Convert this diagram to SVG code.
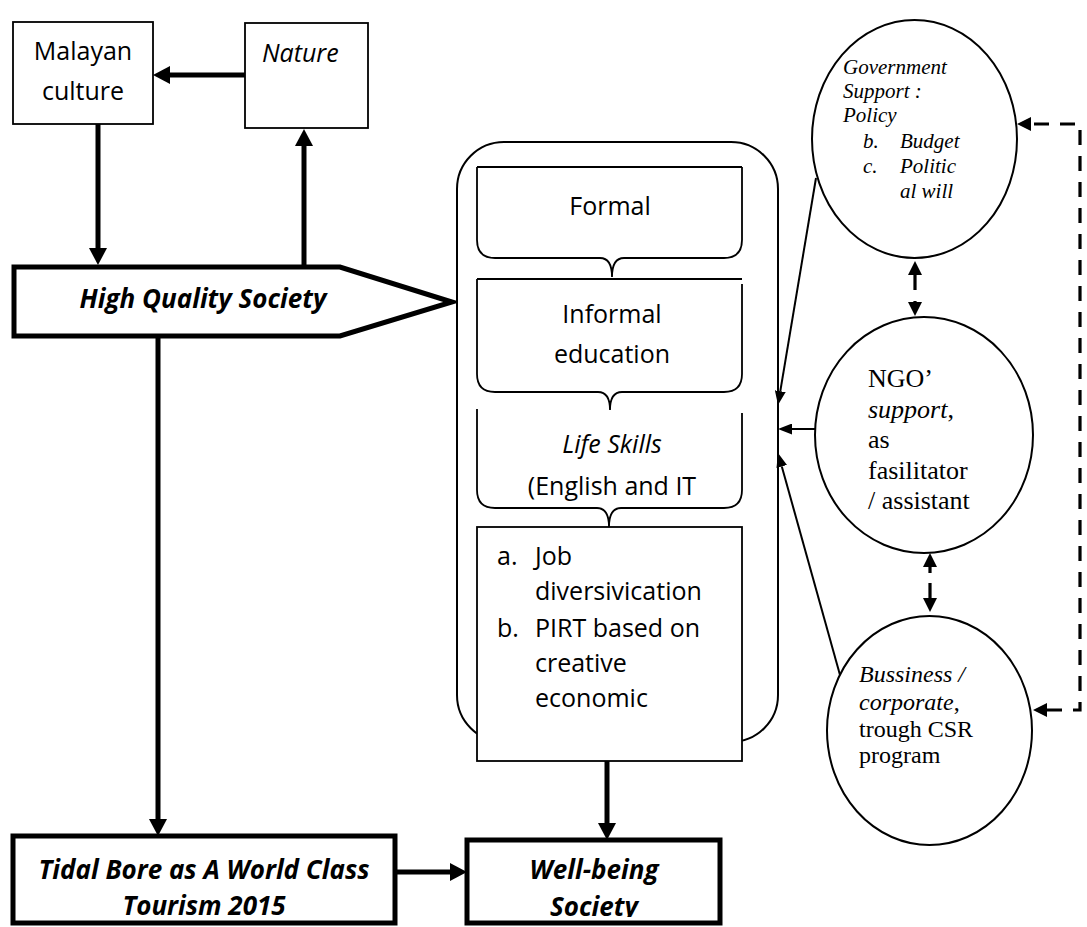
<svg xmlns="http://www.w3.org/2000/svg" width="1087" height="927" viewBox="0 0 1087 927">
<defs>
<style>
.box{fill:#fff;stroke:#000;stroke-width:1.8}
.thick{fill:#fff;stroke:#000;stroke-width:5}
.brace{fill:none;stroke:#000;stroke-width:1.8}
.ell{fill:#fff;stroke:#000;stroke-width:2}
.sans{font-family:"Open Sans","Liberation Sans",sans-serif;font-size:25px;fill:#000}
.bold{font-family:"Open Sans","Liberation Sans",sans-serif;font-size:26px;font-weight:bold;font-style:italic;fill:#000}
.serif{font-family:"Liberation Serif","DejaVu Serif",serif;fill:#000}
.tarrow{fill:none;stroke:#000;stroke-width:5}
.narrow{fill:none;stroke:#000;stroke-width:2}
.darrow{fill:none;stroke:#000;stroke-width:3.2;stroke-dasharray:15 11}
</style>
<marker id="ah" markerUnits="userSpaceOnUse" markerWidth="17" markerHeight="18" viewBox="0 0 17 18" refX="0" refY="9" orient="auto"><path d="M0,0 L17,9 L0,18 Z" fill="#000"/></marker>
<marker id="an" markerUnits="userSpaceOnUse" markerWidth="14" markerHeight="11" viewBox="0 0 14 11" refX="0" refY="5.5" orient="auto"><path d="M0,0 L14,5.5 L0,11 Z" fill="#000"/></marker>
<marker id="ad" markerUnits="userSpaceOnUse" markerWidth="14" markerHeight="14" viewBox="0 0 14 14" refX="0" refY="7" orient="auto-start-reverse"><path d="M0,0 L14,7 L0,14 Z" fill="#000"/></marker>
<clipPath id="clipB"><rect x="0" y="0" width="1087" height="917"/></clipPath>
</defs>
<rect width="1087" height="927" fill="#fff"/>

<g id="malayan">
<rect class="box" x="13" y="22" width="140" height="102"/>
<text class="sans" text-anchor="middle"><tspan x="83" y="60">Malayan</tspan><tspan x="83" y="100">culture</tspan></text>
</g>
<g id="nature">
<rect class="box" x="245" y="23" width="123" height="105"/>
<text class="sans" x="262" y="62" font-style="italic">Nature</text>
</g>
<g id="hqs">
<path class="thick" d="M14,267 L340,267 L452,302 L340,336 L14,336 Z"/>
<text class="bold" x="203" y="308" text-anchor="middle">High Quality Society</text>
</g>

<g id="container">
<rect fill="#fff" stroke="#000" stroke-width="2" x="457" y="142" width="321" height="600" rx="47" ry="47"/>
</g>
<g id="formal">
<path class="brace" d="M477,167 H742 M477,167 V240 Q477,258 495,258 H600 Q612,258 612,277 Q612,258 624,258 H724 Q742,258 742,240 V167"/>
<text class="sans" x="610" y="215" text-anchor="middle">Formal</text>
</g>
<g id="informal">
<path class="brace" d="M477,279 H742 M477,279 V374 Q477,392 495,392 H598 Q610,392 610,410 Q610,392 622,392 H724 Q742,392 742,374 V284"/>
<text class="sans" text-anchor="middle"><tspan x="612" y="323">Informal</tspan><tspan x="612" y="363">education</tspan></text>
</g>
<g id="lifeskills">
<path class="brace" d="M477,409 V490 Q477,508 495,508 H597 Q609,508 609,527 Q609,508 621,508 H724 Q742,508 742,490 V413"/>
<text class="sans" text-anchor="middle"><tspan x="612" y="453" font-style="italic">Life Skills</tspan><tspan x="612" y="495">(English and IT</tspan></text>
</g>
<g id="job">
<rect class="box" x="477" y="527" width="265" height="234"/>
<text class="sans"><tspan x="497" y="565">a.</tspan><tspan x="535" y="565">Job</tspan><tspan x="535" y="600">diversivication</tspan><tspan x="497" y="637">b.</tspan><tspan x="535" y="637">PIRT based on</tspan><tspan x="535" y="672">creative</tspan><tspan x="535" y="707">economic</tspan></text>
</g>

<g id="government">
<ellipse class="ell" cx="914.5" cy="139" rx="102.5" ry="119"/>
<text class="serif" font-size="21" font-style="italic"><tspan x="843" y="74">Government</tspan><tspan x="843" y="98">Support :</tspan><tspan x="843" y="122">Policy</tspan><tspan x="863" y="148">b.</tspan><tspan x="900" y="148">Budget</tspan><tspan x="863" y="173">c.</tspan><tspan x="900" y="173">Politic</tspan><tspan x="900" y="198">al will</tspan></text>
</g>
<g id="ngo">
<ellipse class="ell" cx="924" cy="435" rx="109" ry="118"/>
<text class="serif" font-size="26"><tspan x="868" y="387">NGO’</tspan><tspan x="868" y="418" font-style="italic">support</tspan><tspan>,</tspan><tspan x="868" y="448">as</tspan><tspan x="868" y="479">fasilitator</tspan><tspan x="868" y="509">/ assistant</tspan></text>
</g>
<g id="business">
<ellipse class="ell" cx="929.5" cy="730.5" rx="102.5" ry="114.5"/>
<text class="serif" font-size="24"><tspan x="859" y="682" font-style="italic">Bussiness /</tspan><tspan x="859" y="710" font-style="italic">corporate</tspan><tspan>,</tspan><tspan x="859" y="737">trough CSR</tspan><tspan x="859" y="763">program</tspan></text>
</g>

<g id="tidal">
<rect class="thick" x="13" y="836" width="382" height="87"/>
<text class="bold" text-anchor="middle" clip-path="url(#clipB)"><tspan x="204" y="879">Tidal Bore as A World Class</tspan><tspan x="204" y="915">Tourism 2015</tspan></text>
</g>
<g id="wellbeing">
<rect class="thick" x="467" y="840" width="253" height="83"/>
<text class="bold" text-anchor="middle" clip-path="url(#clipB)"><tspan x="594" y="879">Well-being</tspan><tspan x="594" y="916">Society</tspan></text>
</g>

<g id="connectors">
<path class="tarrow" d="M245,75 H170" marker-end="url(#ah)"/>
<path class="tarrow" d="M98,124 V248" marker-end="url(#ah)"/>
<path class="tarrow" d="M304,265 V146" marker-end="url(#ah)"/>
<path class="tarrow" d="M158,338 V819" marker-end="url(#ah)"/>
<path class="tarrow" d="M397,872 H450" marker-end="url(#ah)"/>
<path class="tarrow" d="M607,761 V823" marker-end="url(#ah)"/>
<path class="narrow" d="M816,178 L780.3,391.2" marker-end="url(#an)"/>
<path class="narrow" d="M815,429 H792" marker-end="url(#an)"/>
<path class="narrow" d="M840,675 L781.8,466.5" marker-end="url(#an)"/>
<path class="darrow" d="M1047,710 H1080 V124 H1031" marker-start="url(#ad)" marker-end="url(#ad)"/>
<path class="darrow" d="M915,275 V302" marker-start="url(#ad)" marker-end="url(#ad)"/>
<path class="darrow" style="stroke-dasharray:6 10 15" d="M930,567 V598" marker-start="url(#ad)" marker-end="url(#ad)"/>
</g>
</svg>
